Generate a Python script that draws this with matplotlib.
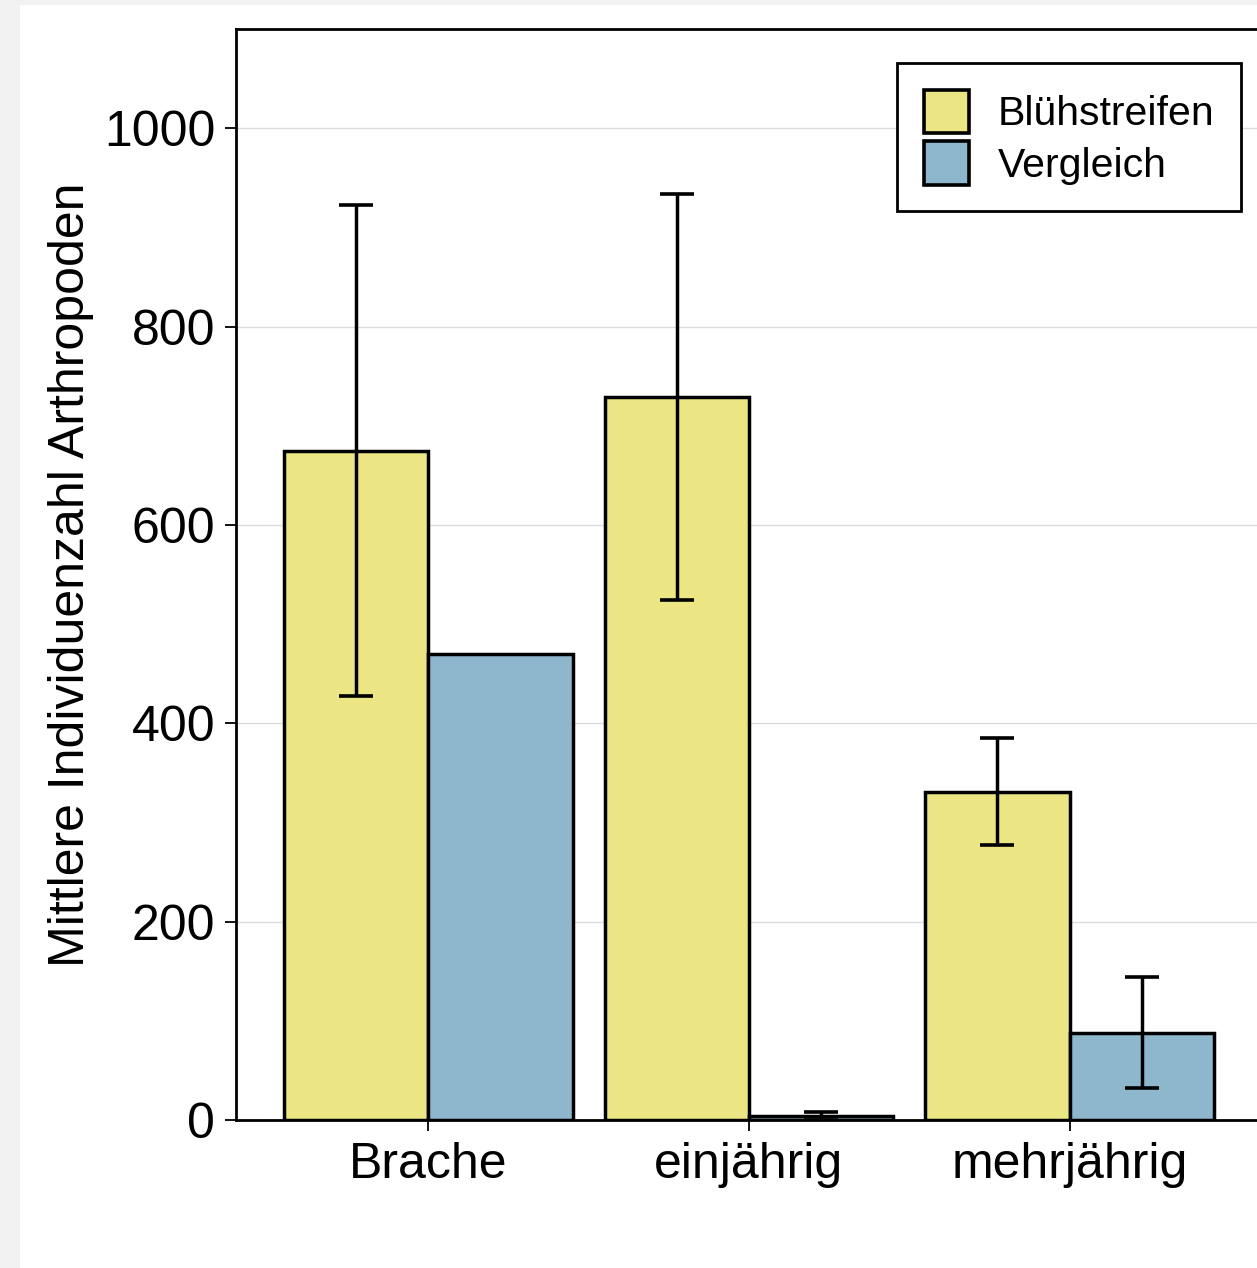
import matplotlib
matplotlib.use("Agg")
import matplotlib.pyplot as plt
import numpy as np
from matplotlib.patches import Rectangle, Patch

plt.rcParams['font.family'] = ['Liberation Sans', 'DejaVu Sans']

categories = ["Brache", "einjährig", "mehrjährig"]
series_names = ["Blühstreifen", "Vergleich"]
bluehstreifen = [675, 729, 331]
bluehstreifen_err = [248, 205, 54]
vergleich = [470, 4, 88]
vergleich_err = [0, 4, 56]
y_ticks = [0, 200, 400, 600, 800, 1000]

yellow = "#ebe584"
blue = "#8eb6cd"

W, H = 1257, 1268
fig = plt.figure(figsize=(W / 100, H / 100), dpi=100)
fig.patch.set_facecolor("#f2f2f2")
# white panel behind the chart
fig.patches.append(Rectangle((20 / W, 0), 1, 1 - 5 / H, transform=fig.transFigure,
                             facecolor="white", edgecolor="none", zorder=-5))

left, right = 236 / W, 1262 / W
bottom, top = 1 - 1120 / H, 1 - 29 / H
ax = fig.add_axes([left, bottom, right - left, top - bottom])
ax.set_facecolor("white")

x = np.arange(len(categories))
width = 0.45
ax.bar(x - width / 2, bluehstreifen, width, color=yellow, edgecolor="black",
       linewidth=2.5, zorder=3, label=series_names[0])
ax.bar(x + width / 2, vergleich, width, color=blue, edgecolor="black",
       linewidth=2.5, zorder=3, label=series_names[1])

ek = dict(fmt="none", ecolor="black", elinewidth=2.5, capsize=12, capthick=2.6, zorder=4)
ax.errorbar(x - width / 2, bluehstreifen, yerr=bluehstreifen_err, **ek)
v_idx = [i for i, e in enumerate(vergleich_err) if e > 0]
ax.errorbar(x[v_idx] + width / 2, [vergleich[i] for i in v_idx],
            yerr=[vergleich_err[i] for i in v_idx], **ek)

ax.set_xlim(-0.6, 2.6)
ax.set_ylim(0, 1100)
ax.set_yticks(y_ticks)
ax.set_yticklabels([str(v) for v in y_ticks], fontsize=36)
ax.set_xticks(x)
ax.set_xticklabels(categories, fontsize=36)
ax.yaxis.grid(True, color="#dcdcdc", linewidth=1.0, zorder=0)
ax.set_axisbelow(True)
ax.tick_params(axis="both", direction="out", length=8, width=1.3, colors="black")
ax.tick_params(axis="x", pad=8)
ax.tick_params(axis="y", pad=7)
for s in ["left", "top", "bottom"]:
    ax.spines[s].set_linewidth(2.0)
    ax.spines[s].set_color("black")
ax.spines["right"].set_visible(False)

ax.set_ylabel("Mittlere Individuenzahl Arthropoden", fontsize=36, labelpad=7)

handles = [Patch(facecolor=yellow, edgecolor="black", linewidth=2.6),
           Patch(facecolor=blue, edgecolor="black", linewidth=2.6)]
leg = ax.legend(handles, series_names, loc="upper left",
                bbox_to_anchor=((897 - 236) / (1262 - 236), 1 - (63 - 29) / (1120 - 29)),
                fontsize=29.5, frameon=True, fancybox=False, edgecolor="black",
                handlelength=1.1, handleheight=1.25, handletextpad=0.7,
                labelspacing=0.2, borderpad=0.65, borderaxespad=0)
leg.get_frame().set_linewidth(2.0)
leg.get_frame().set_alpha(1)

fig.savefig("out.png", dpi=100, facecolor=fig.get_facecolor())
